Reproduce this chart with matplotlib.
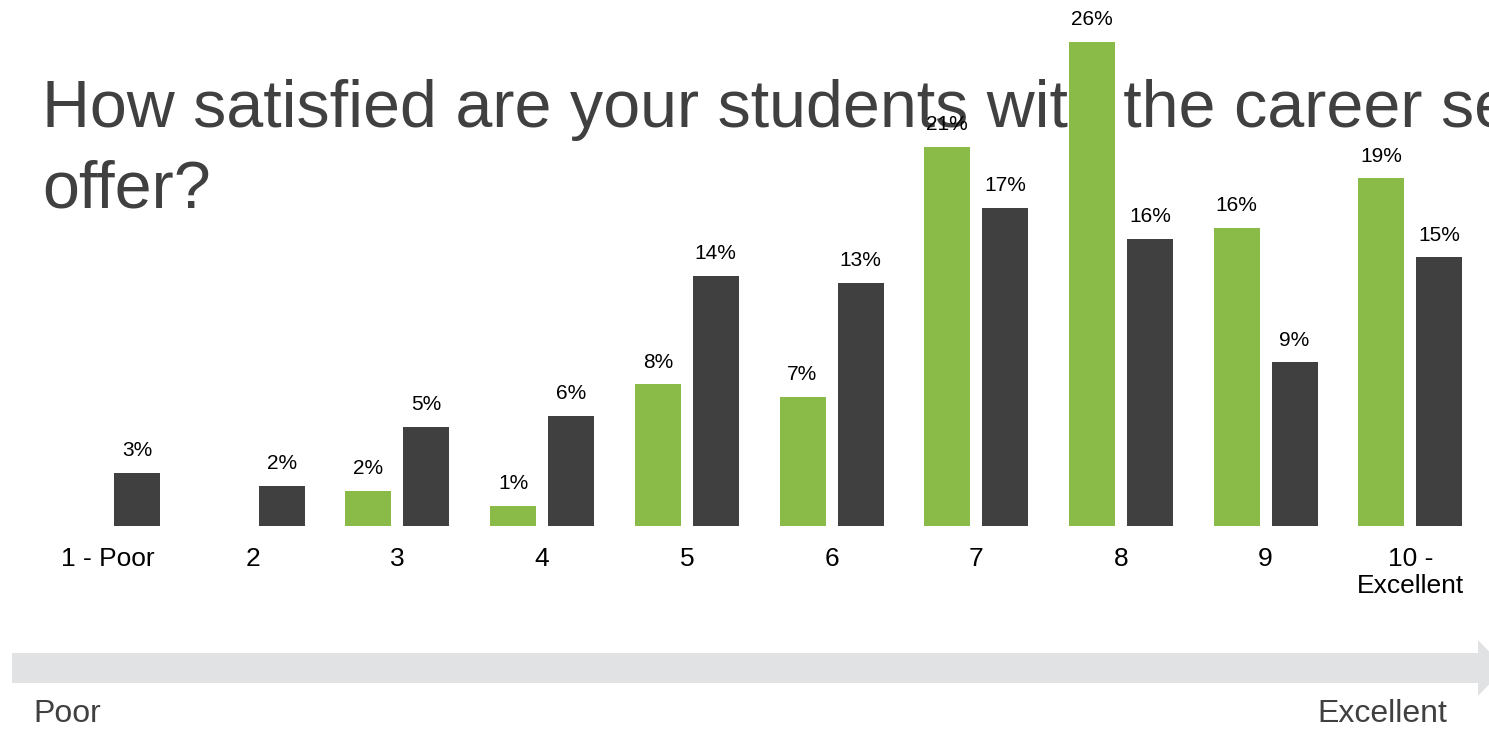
import matplotlib
matplotlib.use("Agg")
import matplotlib.pyplot as plt
import numpy as np
from matplotlib.patches import Polygon

plt.rcParams['font.family'] = ['Liberation Sans', 'DejaVu Sans']

categories = ["1 - Poor", "2", "3", "4", "5", "6", "7", "8", "9", "10 -\nExcellent"]
green_values = [0.0, 0.0, 1.9, 1.1, 7.7, 7.0, 20.6, 26.3, 16.2, 18.9]
dark_values = [2.9, 2.2, 5.4, 6.0, 13.6, 13.2, 17.3, 15.6, 8.9, 14.6]
title_line1 = "How satisfied are your students with the career services you"
title_line2 = "offer?"

GREEN = "#8aba48"
DARK = "#404040"
TXT = "#404040"

fig = plt.figure(figsize=(14.89, 7.29), dpi=100)
W, H = 1489, 729
spacing = 144.7
c0 = 108
base = 526
pxper = 18.4

ax = fig.add_axes([0, (H - base) / H, 1, base / H])
ax.set_facecolor("none")
ax.set_zorder(1)
ax.set_xlim(-c0 / spacing, (W - c0) / spacing)
ax.set_ylim(0, base / pxper)

x = np.arange(len(categories))
off = 29 / spacing
bw = 46 / spacing
for xi, g, d in zip(x, green_values, dark_values):
    if g > 0:
        ax.bar(xi - off, g, width=bw, color=GREEN, clip_on=False)
        ax.annotate(f"{int(g + 0.5)}%", (xi - off, g), xytext=(0, 16), textcoords="offset points",
                    ha="center", va="center", fontsize=15, color="black", annotation_clip=False)
    if d > 0:
        ax.bar(xi + off, d, width=bw, color=DARK, clip_on=False)
        ax.annotate(f"{int(d + 0.5)}%", (xi + off, d), xytext=(0, 16), textcoords="offset points",
                    ha="center", va="center", fontsize=15, color="black", annotation_clip=False)

ax.set_xticks(x)
ax.set_xticklabels(categories, fontsize=19, color="black", linespacing=1.15)
ax.tick_params(axis="x", length=0, pad=15)
ax.set_yticks([])
for s in ax.spines.values():
    s.set_visible(False)

# Title (behind bars)
fig.text(42 / W, 1 - 127 / H, title_line1, fontsize=47.8, color=TXT, va="baseline", ha="left", zorder=0)
fig.text(42 / W, 1 - 208 / H, title_line2, fontsize=47.8, color=TXT, va="baseline", ha="left", zorder=0)

# Arrow
arrow_pts = np.array([[12, 653], [1478, 653], [1478, 640], [1505, 668], [1478, 696], [1478, 683], [12, 683]], dtype=float)
arrow_fig = np.column_stack([arrow_pts[:, 0] / W, 1 - arrow_pts[:, 1] / H])
fig.patches.append(Polygon(arrow_fig, closed=True, transform=fig.transFigure, facecolor="#e1e2e4", edgecolor="none"))

fig.text(33 / W, 1 - 714 / H, "Poor", fontsize=23, color=TXT, va="center", ha="left")
fig.text(1447 / W, 1 - 714 / H, "Excellent", fontsize=23, color=TXT, va="center", ha="right")

fig.savefig("out.png", dpi=100)
